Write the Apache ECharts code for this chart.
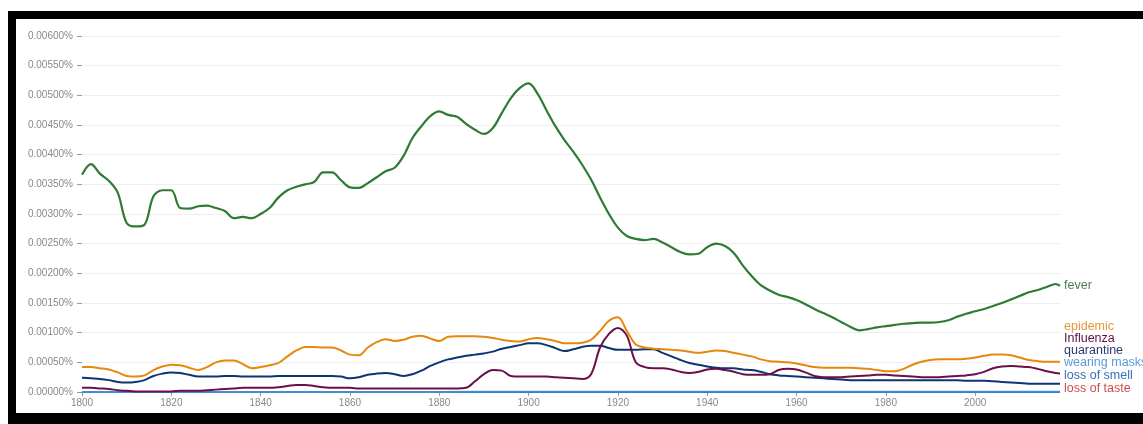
<!DOCTYPE html>
<html>
<head>
<meta charset="utf-8">
<script src="https://cdn.jsdelivr.net/npm/echarts@6/dist/echarts.min.js"></script>
<style>
html,body{margin:0;padding:0;background:#fff;}
#c{width:1143px;height:424px;}
</style>
</head>
<body>
<div id="c"></div>
<script>
// ---- data ----
const years = [];
for (let y = 1800; y <= 2018; y += 2) years.push(y);
years.push(2019);

const seriesNames = ['fever','epidemic','Influenza','quarantine','wearing masks','loss of smell','loss of taste'];

const fever = [
0.00366,0.00384,0.00368,0.00356,0.00336,0.00285,0.00279,0.00282,0.00330,0.00340,
0.00340,0.00310,0.00309,0.00313,0.00314,0.00310,0.00305,0.00293,0.00295,0.00293,
0.00300,0.00310,0.00328,0.00340,0.00346,0.00350,0.00354,0.00370,0.00370,0.00357,
0.00345,0.00344,0.00352,0.00362,0.00372,0.00378,0.00398,0.00428,0.00448,0.00465,
0.00473,0.00467,0.00464,0.00452,0.00442,0.00435,0.00445,0.00470,0.00495,0.00512,
0.00520,0.00503,0.00475,0.00448,0.00425,0.00405,0.00383,0.00358,0.00328,0.00300,
0.00277,0.00263,0.00258,0.00256,0.00258,0.00252,0.00244,0.00236,0.00232,0.00233,
0.00244,0.00250,0.00246,0.00234,0.00213,0.00195,0.00180,0.00171,0.00164,0.00160,
0.00155,0.00148,0.00140,0.00133,0.00126,0.00118,0.00110,0.00104,0.00106,0.00109,
0.00111,0.00113,0.00115,0.00116,0.00117,0.00117,0.00118,0.00121,0.00127,0.00132,
0.00136,0.00140,0.00145,0.00150,0.00156,0.00162,0.00168,0.00172,0.00177,0.00182,
0.00179];

const epidemic = [
0.00042,0.00042,0.00040,0.00038,0.00033,0.00027,0.00026,0.00028,0.00037,0.00043,
0.00046,0.00045,0.00041,0.00037,0.00042,0.00050,0.00053,0.00053,0.00047,0.00040,
0.00042,0.00045,0.00049,0.00060,0.00070,0.00076,0.00076,0.00075,0.00075,0.00070,
0.00063,0.00062,0.00075,0.00084,0.00089,0.00086,0.00088,0.00093,0.00095,0.00090,
0.00086,0.00093,0.00094,0.00094,0.00094,0.00093,0.00091,0.00088,0.00086,0.00085,
0.00089,0.00091,0.00089,0.00086,0.00082,0.00082,0.00083,0.00088,0.00103,0.00120,
0.00126,0.00103,0.00080,0.00075,0.00073,0.00072,0.00071,0.00070,0.00068,0.00066,
0.00068,0.00070,0.00069,0.00066,0.00063,0.00060,0.00055,0.00052,0.00051,0.00050,
0.00048,0.00045,0.00042,0.00041,0.00041,0.00041,0.00041,0.00040,0.00039,0.00037,
0.00035,0.00035,0.00039,0.00046,0.00051,0.00054,0.00055,0.00055,0.00055,0.00056,
0.00058,0.00061,0.00063,0.00063,0.00062,0.00058,0.00054,0.00052,0.00051,0.00051,
0.00051];

const influenza = [
0.00007,0.00007,0.00006,0.00005,0.00003,0.00002,0.00001,0.00001,0.00001,0.00001,
0.00001,0.00002,0.00002,0.00002,0.00003,0.00004,0.00005,0.00006,0.00007,0.00007,
0.00007,0.00007,0.00008,0.00010,0.00012,0.00012,0.00010,0.00008,0.00007,0.00007,
0.00007,0.00006,0.00006,0.00006,0.00006,0.00006,0.00006,0.00006,0.00006,0.00006,
0.00006,0.00006,0.00006,0.00007,0.00018,0.00030,0.00037,0.00036,0.00027,0.00026,
0.00026,0.00026,0.00026,0.00025,0.00024,0.00023,0.00022,0.00030,0.00075,0.00098,
0.00108,0.00095,0.00050,0.00042,0.00040,0.00040,0.00038,0.00034,0.00032,0.00034,
0.00038,0.00039,0.00037,0.00034,0.00030,0.00029,0.00029,0.00030,0.00037,0.00039,
0.00038,0.00033,0.00027,0.00025,0.00025,0.00025,0.00026,0.00027,0.00028,0.00029,
0.00029,0.00028,0.00027,0.00026,0.00025,0.00025,0.00025,0.00026,0.00027,0.00028,
0.00030,0.00034,0.00040,0.00043,0.00044,0.00043,0.00042,0.00039,0.00035,0.00032,
0.00031];

const quarantine = [
0.00024,0.00023,0.00022,0.00020,0.00017,0.00016,0.00017,0.00020,0.00027,0.00031,
0.00033,0.00032,0.00029,0.00026,0.00026,0.00026,0.00027,0.00027,0.00026,0.00026,
0.00026,0.00026,0.00027,0.00027,0.00027,0.00027,0.00027,0.00027,0.00027,0.00026,
0.00023,0.00025,0.00029,0.00031,0.00032,0.00030,0.00027,0.00030,0.00036,0.00044,
0.00050,0.00055,0.00058,0.00061,0.00063,0.00065,0.00068,0.00073,0.00076,0.00079,
0.00082,0.00082,0.00079,0.00074,0.00069,0.00072,0.00076,0.00078,0.00078,0.00074,
0.00071,0.00071,0.00071,0.00072,0.00072,0.00066,0.00060,0.00054,0.00049,0.00046,
0.00043,0.00041,0.00040,0.00040,0.00038,0.00037,0.00034,0.00030,0.00028,0.00027,
0.00026,0.00025,0.00024,0.00023,0.00022,0.00021,0.00020,0.00020,0.00020,0.00020,
0.00020,0.00020,0.00020,0.00020,0.00020,0.00020,0.00020,0.00020,0.00020,0.00019,
0.00019,0.00019,0.00018,0.00017,0.00016,0.00015,0.00014,0.00014,0.00014,0.00014,
0.00014];

// near-zero series, read at 20-year steps
const yearsSparse = [1800,1820,1840,1860,1880,1900,1920,1940,1960,1980,2000,2019];
const wearingMasks = [0.000002,0.000002,0.000002,0.000002,0.000002,0.000003,0.000003,0.000003,0.000003,0.000003,0.000004,0.000006];
const lossOfSmell  = [0.000001,0.000001,0.000002,0.000002,0.000001,0.000001,0.000001,0.000001,0.000001,0.000001,0.000001,0.000002];
const lossOfTaste  = [0.000001,0.000001,0.000001,0.000001,0.000001,0.000001,0.000001,0.000001,0.000001,0.000001,0.000001,0.000002];

const xTickValues = [1800,1820,1840,1860,1880,1900,1920,1940,1960,1980,2000];

const lineColors  = ['#2f7a34','#e8870e','#6b0f4a','#0e3373','#3d8fd6','#2a62b4','#d0504c'];
const labelColors = ['#4f7f4f','#e39a3a','#5a1042','#2a3a70','#5b9bd5','#3a6fb8','#c8504d'];
const labelY      = [286,327,339,351,363,376,389];

// ---- chart ----
const pair = (xs, vs) => xs.map((x, i) => [x, vs[i]]);
const allData = [
  pair(years, fever), pair(years, epidemic), pair(years, influenza), pair(years, quarantine),
  pair(yearsSparse, wearingMasks), pair(yearsSparse, lossOfSmell), pair(yearsSparse, lossOfTaste)
];
const order = [6,5,4,3,2,1,0];

const chart = echarts.init(document.getElementById('c'), null, {renderer: 'canvas'});
chart.setOption({
  animation: false,
  backgroundColor: '#ffffff',
  grid: {left: 82, right: 83, top: 36, bottom: 32, containLabel: false},
  xAxis: {
    type: 'value', min: 1800, max: 2019,
    axisLine: {show: false},
    axisTick: {show: true, length: 4, lineStyle: {color: '#999'}, customValues: xTickValues},
    axisLabel: {customValues: xTickValues, color: '#888', fontSize: 10, margin: 6, fontFamily: 'Liberation Sans',
      formatter: v => String(v)},
    splitLine: {show: false}
  },
  yAxis: {
    type: 'value', min: 0, max: 0.006, interval: 0.0005,
    axisLine: {show: false},
    axisTick: {show: true, length: 5, lineStyle: {color: '#999'}},
    axisLabel: {color: '#888', fontSize: 10, margin: 9, fontFamily: 'Liberation Sans',
      formatter: v => v.toFixed(5) + '%'},
    splitLine: {show: true, lineStyle: {color: '#efefef', width: 1}}
  },
  series: order.map(i => ({
    name: seriesNames[i], type: 'line', data: allData[i], smooth: 0.35,
    symbol: 'none', z: 2 + (6 - i),
    lineStyle: {color: lineColors[i], width: i === 0 ? 2.2 : 2}
  })),
  graphic: [
    {type: 'rect', shape: {x: 8, y: 11, width: 1135, height: 8}, style: {fill: '#000'}, z: 100},
    {type: 'rect', shape: {x: 8, y: 11, width: 8, height: 413}, style: {fill: '#000'}, z: 100},
    {type: 'rect', shape: {x: 8, y: 413, width: 1135, height: 11}, style: {fill: '#000'}, z: 100}
  ].concat(seriesNames.map((n, i) => ({
    type: 'text', x: 1064, y: labelY[i], z: 50,
    style: {text: n, fill: labelColors[i], font: '12.5px "Liberation Sans"', verticalAlign: 'middle'}
  })))
});
</script>
</body>
</html>
